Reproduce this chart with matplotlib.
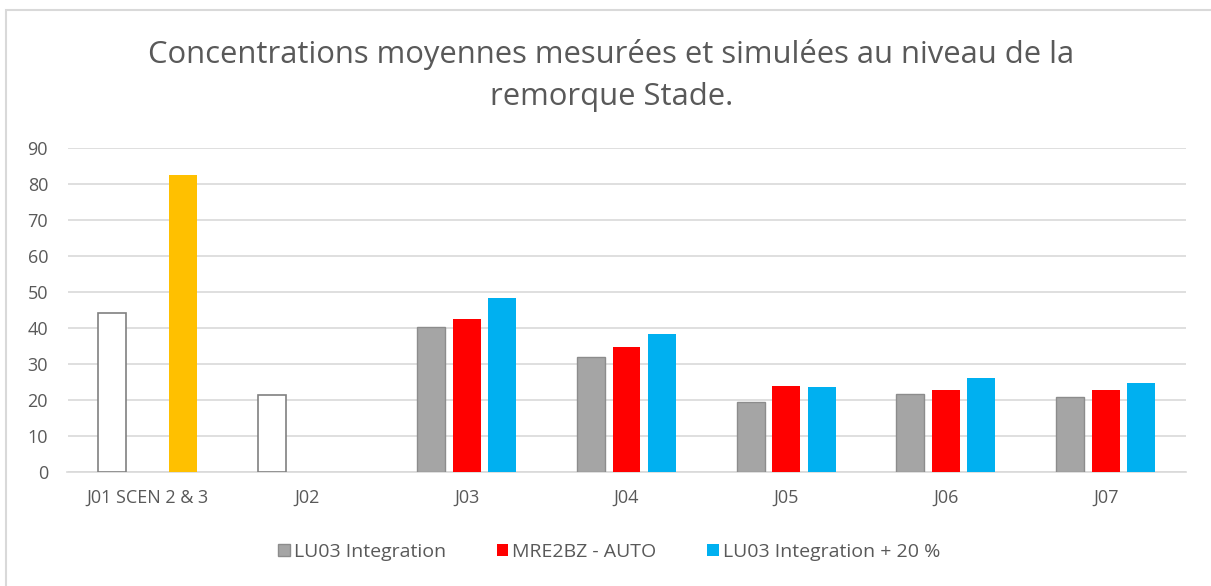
import matplotlib.pyplot as plt
import matplotlib.patches as mpatches
import numpy as np

plt.rcParams['font.family'] = ['Open Sans', 'DejaVu Sans']

### data
categories = ['J01 SCEN 2 & 3', 'J02', 'J03', 'J04', 'J05', 'J06', 'J07']
mesure = [44.3, 21.3, np.nan, np.nan, np.nan, np.nan, np.nan]
mesure_j01 = [82.6, np.nan, np.nan, np.nan, np.nan, np.nan, np.nan]
lu03 = [np.nan, np.nan, 40.2, 32.0, 19.5, 21.7, 20.7]
mre2bz = [np.nan, np.nan, 42.4, 34.7, 23.9, 22.7, 22.7]
lu03_20 = [np.nan, np.nan, 48.2, 38.2, 23.5, 26.0, 24.8]
yticks = list(range(0, 100, 10))

txt = '#595959'
grid = '#d9d9d9'

fig = plt.figure(figsize=(12.11, 5.86), dpi=100)
ax = fig.add_axes([67.5/1211, 1-472/586, (1185.5-67.5)/1211, (472-148)/586])

x = np.arange(len(categories))
w = 0.175
off = 0.222
# measured (no legend)
ax.bar(x-off, mesure, w, facecolor='white', edgecolor='#808080', linewidth=1.2, zorder=3)
ax.bar(x+off, mesure_j01, w, color='#ffc000', zorder=3)
# simulated
ax.bar(x-off, lu03, w, facecolor='#a5a5a5', edgecolor='#8c8c8c', linewidth=1.0, zorder=3, label='LU03 Integration')
ax.bar(x, mre2bz, w, color='#ff0000', zorder=3, label='MRE2BZ - AUTO')
ax.bar(x+off, lu03_20, w, color='#00b0f0', zorder=3, label='LU03 Integration + 20 %')

ax.set_xlim(-0.5, len(categories)-0.5)
ax.set_ylim(0, 90)
ax.set_yticks(yticks)
ax.set_xticks(x)
ax.set_xticklabels(categories)
ax.tick_params(axis='both', length=0, labelsize=13, colors=txt)
ax.tick_params(axis='x', pad=12)
ax.tick_params(axis='y', pad=14)
ax.yaxis.grid(True, color=grid, linewidth=1.2, zorder=0)
ax.set_axisbelow(True)
for s in ['top', 'right', 'left']:
    ax.spines[s].set_visible(False)
ax.spines['bottom'].set_color(grid)
ax.spines['bottom'].set_linewidth(1.2)

# title
fig.text(0.505, 1-55/586, 'Concentrations moyennes mesurées et simulées au niveau de la',
         ha='center', va='center', fontsize=22.3, color=txt)
fig.text(0.505, 1-97/586, 'remorque Stade.', ha='center', va='center', fontsize=22.3, color=txt)

# legend
fig.legend(loc='center', bbox_to_anchor=(0.503, 1-552/586), ncol=3, frameon=False,
           fontsize=14, labelcolor=txt, handlelength=0.6, handleheight=0.6,
           handletextpad=0.2, columnspacing=2.6)

# chart border (left / top)
fig.patches.append(mpatches.Rectangle((6/1211, -0.1), 1.2, 1-10/586+0.1, transform=fig.transFigure,
                                      fill=False, edgecolor='#d9d9d9', linewidth=1.5))

plt.savefig('out.png', dpi=100)
